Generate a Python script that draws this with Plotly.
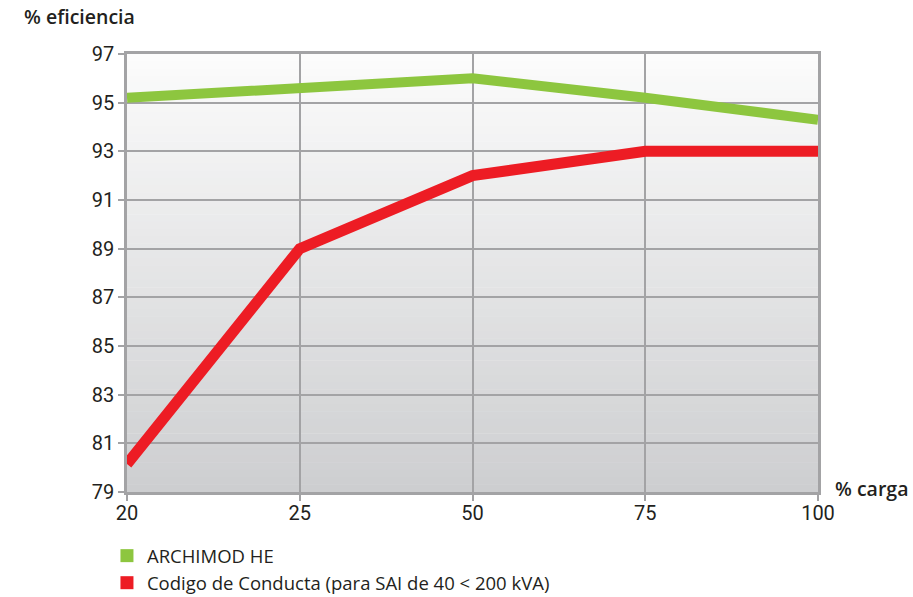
import plotly.graph_objects as go

carga = ["20", "25", "50", "75", "100"]
archimod = [95.2, 95.6, 96.0, 95.2, 94.3]
codigo = [80.15, 89.0, 92.0, 93.0, 93.0]
y_ticks = [79, 81, 83, 85, 87, 89, 91, 93, 95, 97]

GREEN = "#8dc63f"
RED = "#ed1c24"
GRID = "#a3a3a5"
FONT = "Roboto"
TXT = "#231f20"

fig = go.Figure()
fig.add_trace(go.Scatter(x=carga, y=archimod, mode="lines",
                         line=dict(color=GREEN, width=10), showlegend=False))
fig.add_trace(go.Scatter(x=carga, y=codigo, mode="lines",
                         line=dict(color=RED, width=11), showlegend=False))
# legend entries (square markers)
fig.add_trace(go.Scatter(x=[None], y=[None], mode="markers", name="ARCHIMOD HE",
                         marker=dict(symbol="square", size=13, color=GREEN)))
fig.add_trace(go.Scatter(x=[None], y=[None], mode="markers",
                         name="Codigo de Conducta (para SAI de 40 < 200 kVA)",
                         marker=dict(symbol="square", size=13, color=RED)))

# vertical gradient background
n = 60
top = (252, 252, 252)
bot = (205, 206, 208)
shapes = []
for i in range(n):
    t = (i + 0.5) / n
    c = tuple(round(top[k] + (bot[k] - top[k]) * t) for k in range(3))
    shapes.append(dict(type="rect", xref="x domain", yref="y domain",
                       x0=0, x1=1, y0=1 - (i + 1) / n, y1=1 - i / n + 0.001,
                       fillcolor="rgb(%d,%d,%d)" % c, line=dict(width=0),
                       layer="below"))

fig.update_layout(
    width=913, height=597,
    margin=dict(l=127, r=95, t=54, b=105, autoexpand=False),
    paper_bgcolor="white", plot_bgcolor="white",
    shapes=shapes,
    font=dict(family=FONT, color=TXT, size=20),
    xaxis=dict(type="category", range=[0, 4], showgrid=True, gridcolor=GRID,
               gridwidth=1.5, showline=True, linecolor=GRID, linewidth=2.5,
               mirror=True, ticks="outside", ticklen=6, tickcolor=GRID,
               tickwidth=2, zeroline=False, tickfont=dict(size=20, color=TXT),
               ticklabelstandoff=-5, layer="below traces"),
    yaxis=dict(range=[79, 97], tickvals=y_ticks, showgrid=True, gridcolor=GRID,
               gridwidth=1.5, showline=True, linecolor=GRID, linewidth=2.5,
               mirror=True, ticks="outside", ticklen=6, tickcolor=GRID,
               tickwidth=2, zeroline=False, tickfont=dict(size=20, color=TXT),
               layer="below traces"),
    legend=dict(x=-0.029, y=-0.103, xanchor="left", yanchor="top",
                font=dict(size=18.5, family="Open Sans", color=TXT),
                bgcolor="rgba(0,0,0,0)", tracegroupgap=0, itemwidth=30),
    annotations=[
        dict(text="% eficiencia", xref="paper", yref="paper", x=-0.152, y=1.0845,
             xanchor="left", yanchor="middle", showarrow=False,
             font=dict(size=19.5, family="Open Sans", color=TXT, weight=600)),
        dict(text="% carga", xref="paper", yref="paper", x=1.0217, y=0.009,
             xanchor="left", yanchor="middle", showarrow=False,
             font=dict(size=19.5, family="Open Sans", color=TXT, weight=600)),
    ],
)

fig.write_html("out.html")
